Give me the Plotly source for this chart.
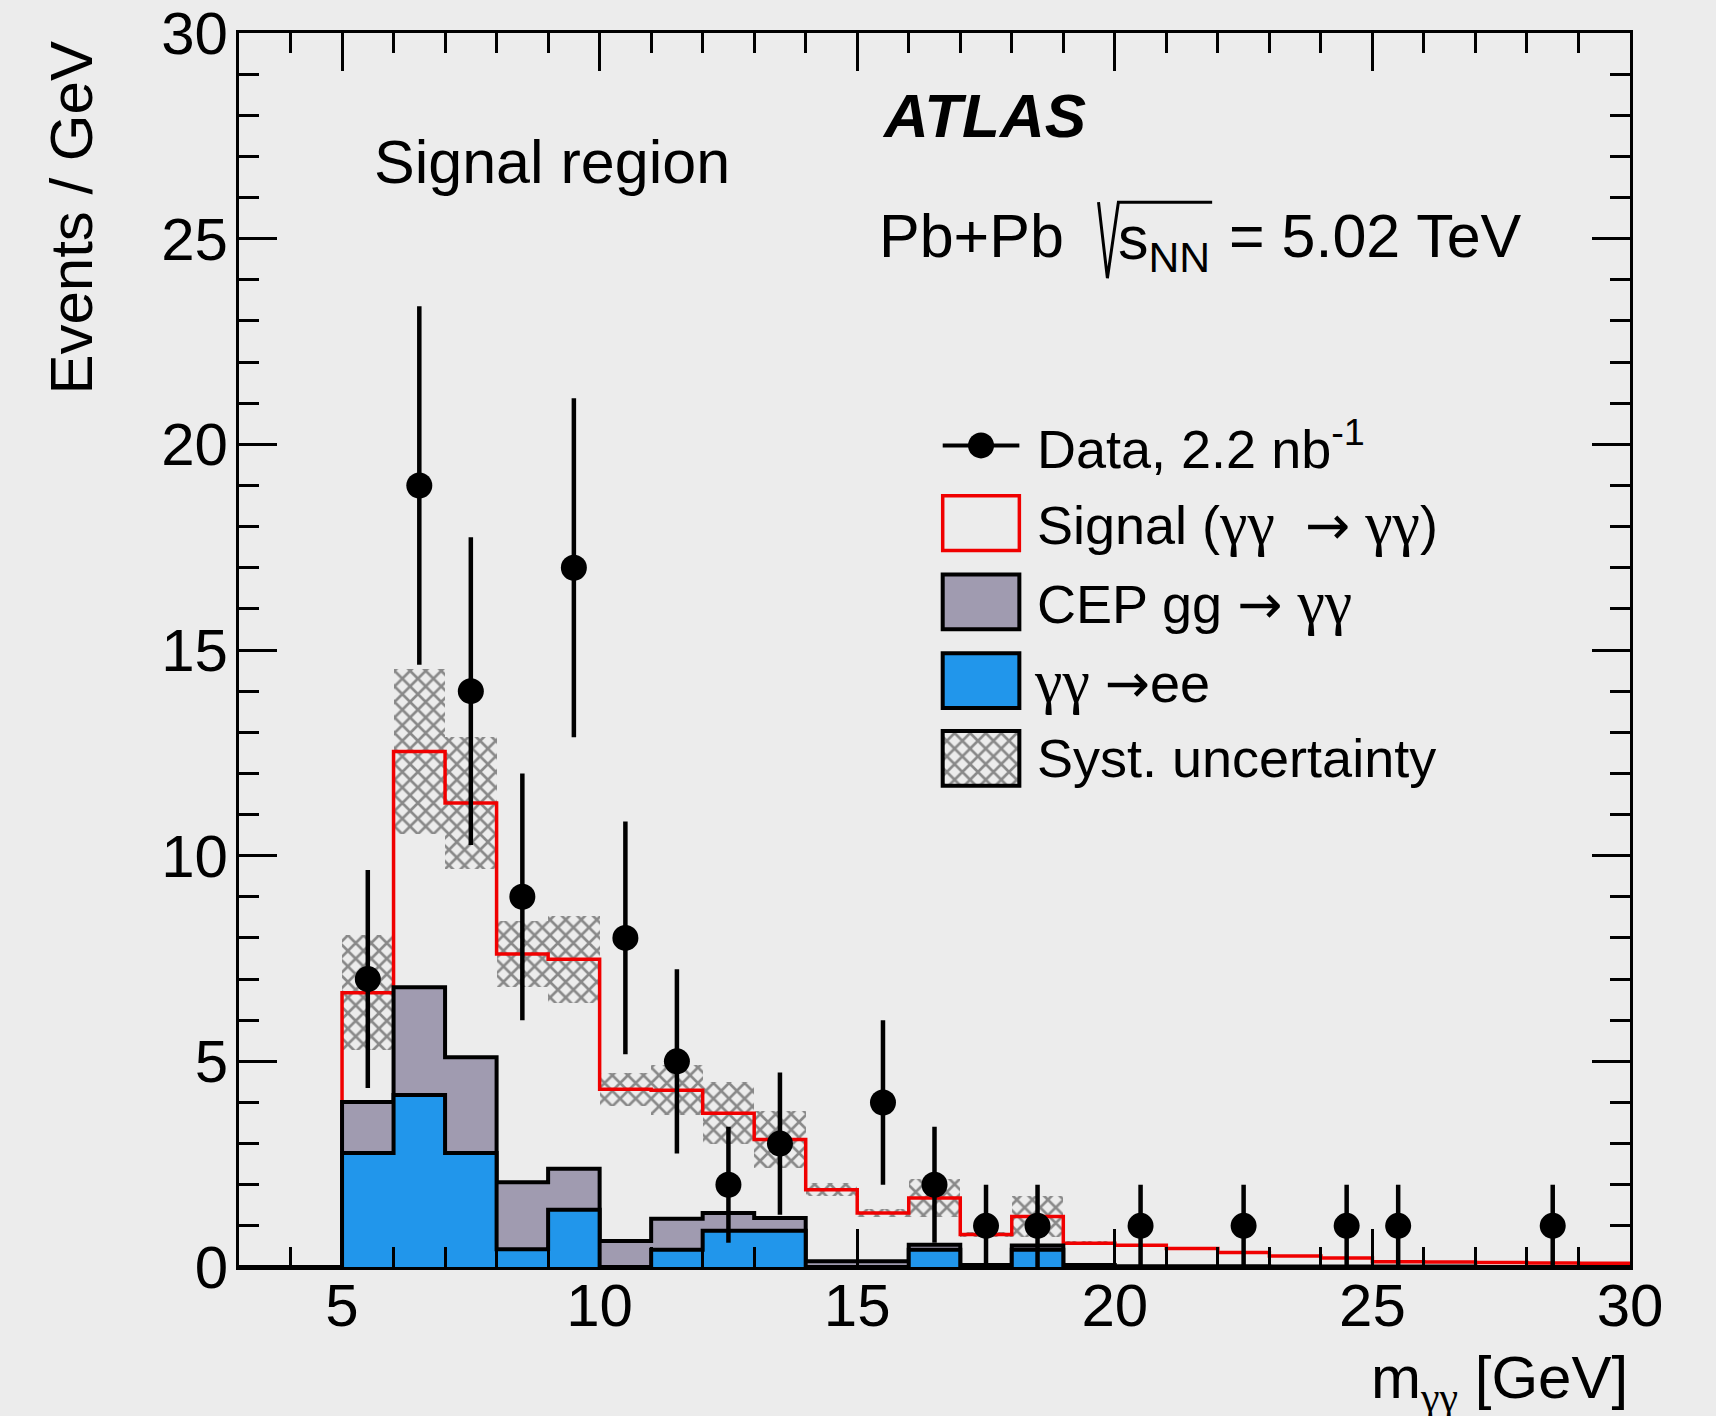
import plotly.graph_objects as go

# ---------------- data ----------------
bin_edges = [3, 4, 5, 6, 7, 8, 9, 10, 11, 12, 13, 14, 15, 16, 17, 18, 19, 20,
             21, 22, 23, 24, 25, 26, 27, 28, 29, 30]
bin_centers = [3.5, 4.5, 5.5, 6.5, 7.5, 8.5, 9.5, 10.5, 11.5, 12.5, 13.5, 14.5,
               15.5, 16.5, 17.5, 18.5, 19.5, 20.5, 21.5, 22.5, 23.5, 24.5,
               25.5, 26.5, 27.5, 28.5, 29.5]
# gamma gamma -> ee background
ee = [0, 0, 2.77, 4.18, 2.77, 0.43, 1.39, 0.00, 0.42, 0.88, 0.88, 0.00,
      0.00, 0.42, 0.00, 0.42, 0.00, 0, 0, 0, 0, 0, 0, 0, 0, 0, 0]
# CEP gg -> gamma gamma background
cep = [0, 0, 1.24, 2.62, 2.33, 1.63, 1.00, 0.63, 0.75, 0.43, 0.31, 0.14,
       0.14, 0.12, 0.05, 0.10, 0.05, 0.02, 0.02, 0.02, 0.01, 0.01, 0.01,
       0.01, 0.00, 0.00, 0.00]
# signal gamma gamma -> gamma gamma
signal = [0, 0, 2.66, 5.73, 6.18, 5.55, 5.09, 3.69, 3.13, 2.43, 1.91, 1.74,
          1.17, 1.14, 0.74, 0.71, 0.53, 0.51, 0.43, 0.33, 0.26, 0.21, 0.12,
          0.11, 0.11, 0.10, 0.09]
# systematic uncertainty (half width of band)
syst = [0, 0, 1.40, 2.00, 1.60, 0.80, 1.05, 0.40, 0.60, 0.75, 0.70, 0.16,
        0.10, 0.46, 0.07, 0.50, 0.05, 0.04, 0.04, 0.04, 0.03, 0.03, 0.03,
        0.03, 0.03, 0.03, 0.03]

data_x = [5.5, 6.5, 7.5, 8.5, 9.5, 10.5, 11.5, 12.5, 13.5, 15.5, 16.5, 17.5,
          18.5, 20.5, 22.5, 24.5, 25.5, 28.5]
data_y = [7, 19, 14, 9, 17, 8, 5, 2, 3, 4, 2, 1, 1, 1, 1, 1, 1, 1]
data_err = [2.65, 4.36, 3.74, 3.0, 4.12, 2.83, 2.24, 1.41, 1.73, 2.0, 1.41,
            1.0, 1.0, 1.0, 1.0, 1.0, 1.0, 1.0]

x_ticks = [5, 10, 15, 20, 25, 30]
y_ticks = [0, 5, 10, 15, 20, 25, 30]

# ---------------- styling ----------------
BG = "#ececec"
BLUE = "#2196eb"
GRAY = "#a09bb0"
RED = "#f00000"
FONT = "Liberation Sans, Arial, sans-serif"
HATCH = dict(shape="x", fgcolor="#262626", bgcolor="rgba(0,0,0,0)",
             size=11, solidity=0.42)

stack_cep = [a + b for a, b in zip(ee, cep)]
stack_tot = [a + b for a, b in zip(stack_cep, signal)]


def step_y(vals):
    return list(vals) + [vals[-1]]


fig = go.Figure()

# total (signal stacked on backgrounds) - red outline
fig.add_trace(go.Scatter(x=bin_edges, y=step_y(stack_tot), mode="lines",
                         line=dict(color=RED, width=3.5, shape="hv"),
                         hoverinfo="skip", showlegend=False))
# CEP stacked on ee
fig.add_trace(go.Scatter(x=bin_edges, y=step_y(stack_cep), mode="lines",
                         line=dict(color="black", width=4, shape="hv"),
                         fill="tozeroy", fillcolor=GRAY,
                         hoverinfo="skip", showlegend=False))
# ee
fig.add_trace(go.Scatter(x=bin_edges, y=step_y(ee), mode="lines",
                         line=dict(color="black", width=4, shape="hv"),
                         fill="tozeroy", fillcolor=BLUE,
                         hoverinfo="skip", showlegend=False))
# systematic band
fig.add_trace(go.Bar(x=bin_centers, y=[2 * s for s in syst],
                     base=[t - s for t, s in zip(stack_tot, syst)],
                     width=1,
                     marker=dict(color="rgba(0,0,0,0)", line=dict(width=0),
                                 pattern=HATCH),
                     hoverinfo="skip", showlegend=False))
# data
fig.add_trace(go.Scatter(x=data_x, y=data_y, mode="markers",
                         marker=dict(color="black", size=26),
                         error_y=dict(type="data", array=data_err, visible=True,
                                      thickness=4.5, width=0, color="black"),
                         showlegend=False))

# ---------------- legend (drawn on an overlay axis in paper units) ----------
LX0, LX1 = 0.5059, 0.5610
rows = [0.6658, 0.6028, 0.5390, 0.4752, 0.4122]
HH = 0.0222
TX = 0.5720

fig.add_trace(go.Scatter(x=[LX0, LX1], y=[rows[0]] * 2,
                         mode="lines", xaxis="x2", yaxis="y2",
                         line=dict(color="black", width=4),
                         hoverinfo="skip", showlegend=False))
fig.add_trace(go.Scatter(x=[(LX0 + LX1) / 2], y=[rows[0]],
                         mode="markers", xaxis="x2", yaxis="y2",
                         marker=dict(color="black", size=26),
                         hoverinfo="skip", showlegend=False))
fig.add_trace(go.Bar(x=[(LX0 + LX1) / 2], y=[2 * HH], base=[rows[4] - HH],
                     width=LX1 - LX0, xaxis="x2", yaxis="y2",
                     marker=dict(color="rgba(0,0,0,0)", line=dict(width=0),
                                 pattern=HATCH),
                     hoverinfo="skip", showlegend=False))

shapes = [
    dict(type="rect", xref="paper", yref="paper", x0=LX0, x1=LX1,
         y0=rows[1] - HH, y1=rows[1] + HH, line=dict(color=RED, width=3.5)),
    dict(type="rect", xref="paper", yref="paper", x0=LX0, x1=LX1,
         y0=rows[2] - HH, y1=rows[2] + HH, line=dict(color="black", width=4),
         fillcolor=GRAY),
    dict(type="rect", xref="paper", yref="paper", x0=LX0, x1=LX1,
         y0=rows[3] - HH, y1=rows[3] + HH, line=dict(color="black", width=4),
         fillcolor=BLUE),
    dict(type="rect", xref="paper", yref="paper", x0=LX0, x1=LX1,
         y0=rows[4] - HH, y1=rows[4] + HH, line=dict(color="black", width=4)),
    # radical sign for sqrt(s_NN)
    dict(type="path", xref="paper", yref="paper",
         path="M 0.6179 0.8629 L 0.6243 0.8013 L 0.6322 0.8629 L 0.6996 0.8629",
         line=dict(color="black", width=3)),
]


def g(s, size=62):
    return ("<span style=\"font-family:'Liberation Serif';font-size:%dpx\">"
            % size + s + "</span>")


def arrow():
    return "<span style=\"font-family:'DejaVu Sans'\">→</span>"


annotations = [
    dict(text="Signal region", x=0.0959, y=0.8953, size=61),
    dict(text="<b><i>ATLAS</i></b>", x=0.4605, y=0.9333, size=62),
    dict(text="Pb+Pb", x=0.4585, y=0.8354, size=61),
    dict(text="s<sub>NN</sub>", x=0.6304, y=0.8300, size=61),
    dict(text="= 5.02 TeV", x=0.7100, y=0.8354, size=61),
    dict(text="Data, 2.2 nb<sup>-1</sup>", x=TX, y=rows[0], size=54),
    dict(text="Signal (" + g("γγ") + "  " + arrow() + " " + g("γγ") + ")",
         x=TX, y=rows[1], size=54),
    dict(text="CEP gg " + arrow() + " " + g("γγ"), x=TX, y=rows[2], size=54),
    dict(text=g("γγ") + " " + arrow() + "ee", x=TX - 0.002, y=rows[3], size=54),
    dict(text="Syst. uncertainty", x=TX, y=rows[4], size=54),
]
ann = []
for a in annotations:
    ann.append(dict(text=a["text"], x=a["x"], y=a["y"], xref="paper",
                    yref="paper", xanchor="left", yanchor="middle",
                    showarrow=False, font=dict(family=FONT, size=a["size"],
                                               color="black")))
# axis titles
ann.append(dict(text="Events / GeV", x=-0.1205, y=0.9958, xref="paper",
                yref="paper", xanchor="center", yanchor="top", textangle=-90,
                showarrow=False, font=dict(family=FONT, size=60, color="black")))
ann.append(dict(text="m<sub>" + g("γγ", 42) + "</sub> [GeV]", x=1.0, y=-0.0929,
                xref="paper", yref="paper", xanchor="right", yanchor="middle",
                showarrow=False, font=dict(family=FONT, size=60, color="black")))

axis_common = dict(showline=True, linewidth=3, linecolor="black",
                   mirror="allticks", ticks="inside", ticklen=38, tickwidth=3,
                   tickcolor="black", showgrid=False, zeroline=False,
                   automargin=False,
                   tickfont=dict(family=FONT, size=60, color="black"))

fig.update_layout(
    width=1716, height=1416,
    margin=dict(l=239, r=86, t=33, b=149, pad=0, autoexpand=False),
    paper_bgcolor=BG, plot_bgcolor=BG,
    barmode="overlay", bargap=0,
    showlegend=False,
    xaxis=dict(range=[3, 30], tickvals=x_ticks, ticklabelstandoff=-16,
               minor=dict(dtick=1, tick0=0, ticks="inside", ticklen=20,
                          tickwidth=3, tickcolor="black"),
               **axis_common),
    yaxis=dict(range=[0, 30], tickvals=y_ticks, ticklabelstandoff=-4,
               minor=dict(dtick=1, tick0=0, ticks="inside", ticklen=20,
                          tickwidth=3, tickcolor="black"),
               **axis_common),
    xaxis2=dict(range=[0, 1], overlaying="x", visible=False, fixedrange=True),
    yaxis2=dict(range=[0, 1], overlaying="y", visible=False, fixedrange=True),
    shapes=shapes,
    annotations=ann,
)

fig.write_html("out.html")
